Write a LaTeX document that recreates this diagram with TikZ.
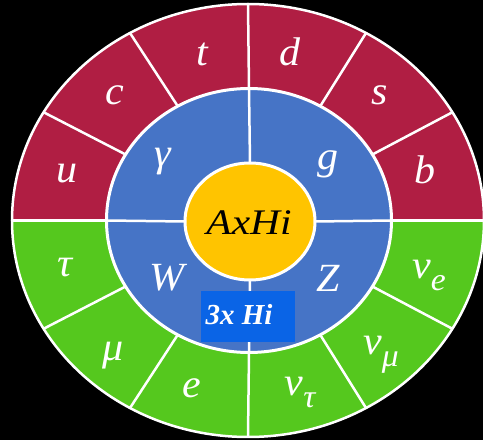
\documentclass[tikz,border=0pt]{standalone}
\usepackage{fontspec}
\setmainfont{Liberation Serif}
\usetikzlibrary{calc}
\definecolor{qred}{HTML}{B01E43}
\definecolor{lgreen}{HTML}{55C81E}
\definecolor{bblue}{HTML}{4674C6}
\definecolor{hgold}{HTML}{FFC400}
\definecolor{boxblue}{HTML}{0A64E6}
\newcommand{\subl}[1]{\raisebox{-0.3em}{\fontsize{32}{34}\selectfont #1}}
\begin{document}
\begin{tikzpicture}[x=1pt,y=1pt,
  wline/.style={white,line width=2.5pt},
  lab/.style={text=white,font=\fontsize{40}{44}\selectfont\itshape,inner sep=0pt,xscale=1.05},
  ctr/.style={text=black,font=\fontsize{36}{40}\selectfont\itshape,inner sep=0pt,xscale=1.15},
  boxlab/.style={text=white,font=\fontsize{29}{32}\selectfont\bfseries\itshape,inner sep=0pt}]
\fill[black] (0,0) rectangle (483,440);
\useasboundingbox (0,0) rectangle (483,440);
\coordinate (O) at (248,219.5);
\coordinate (B) at (249,219.5);
\coordinate (Y) at (250,218.5);
% outer ring halves
\fill[qred] ($(O)+(236,0)$) arc[start angle=0,end angle=180,x radius=236,y radius=216.5] -- cycle;
\fill[lgreen] ($(O)+(236,0)$) arc[start angle=0,end angle=-180,x radius=236,y radius=216.5] -- cycle;
\draw[wline] (O) ellipse[x radius=236,y radius=216.5];
\draw[wline] ($(O)+(-236,0)$) -- ($(O)+(236,0)$);
\foreach \a in {30,60,...,330}
  \draw[wline] ($(B)+(\a:142.5 and 132)$) -- ($(O)+(\a:236 and 216.5)$);
% blue ring
\filldraw[fill=bblue,draw=white,line width=3pt] (B) ellipse[x radius=142.5,y radius=132];
\foreach \a in {0,90,180,270}
  \draw[wline] ($(Y)+(\a:65 and 58.5)$) -- ($(B)+(\a:142.5 and 132)$);
% centre
\filldraw[fill=hgold,draw=white,line width=3pt] (Y) ellipse[x radius=65,y radius=58.5];
% box
\fill[boxblue] (201,98) rectangle (295,149);
% labels
\node[lab] (u) at (67,266) {u};
\node[lab] (c) at (115,345) {c};
\node[lab] (t) at (202,386) {t};
\node[lab] (d) at (290,388) {d};
\node[lab] (s) at (380,345) {s};
\node[lab] (b) at (425,270) {b};
\node[lab] (tau) at (65,172) {τ};
\node[lab] (mu) at (113,84) {μ};
\node[lab] (e) at (192,52) {e};
\node[lab] (nut) at (300,48) {ν\subl{τ}};
\node[lab] (num) at (381,85) {ν\subl{μ}};
\node[lab] (nue) at (429,165) {ν\subl{e}};
\node[lab] (gam) at (163,278) {γ};
\node[lab] (g) at (328,276) {g};
\node[lab] (W) at (167,162) {W};
\node[lab] (Z) at (328,162) {Z};
\node[ctr] (ax) at (249,217) {AxHi};
\node[boxlab] (hi) at (239,125) {3x Hi};
\end{tikzpicture}
\end{document}
